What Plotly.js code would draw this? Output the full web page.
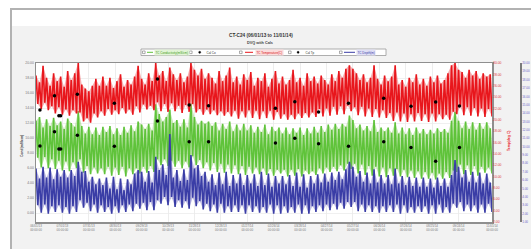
<!DOCTYPE html>
<html>
<head>
<meta charset="utf-8">
<script src="https://cdn.plot.ly/plotly-3.0.1.min.js"></script>
<style>
  html, body { margin:0; padding:0; background:#ffffff; width:531px; height:249px; overflow:hidden; }
  #frame { position:absolute; left:10px; top:8px; width:540px; height:260px;
           border-left:2px solid #b2b2b2; border-top:2px solid #b2b2b2;
           background:linear-gradient(#ffffff 0px, #ffffff 16px, #f2f2f2 16px); }
  #plot { position:absolute; left:0; top:0; width:531px; height:249px; }
</style>
</head>
<body>
<div id="frame"></div>
<div id="plot"></div>
<script>
// ---- data ----
const startDate = '2013-06-01';
const endDate = '2014-11-01';
const sampleStepDays = 4;   // one high + one low reading per 4-day step

const redHi = [27.8,26.6,29.5,27.4,26.0,28.2,26.8,27.6,25.8,28.6,
  27.0,28.2,30.0,26.2,25.5,25.0,26.0,27.2,26.0,27.6,
  26.0,27.4,25.6,26.8,28.0,25.8,27.0,26.2,27.6,29.5,
  27.2,26.2,28.2,26.8,30.0,27.8,28.6,26.8,29.2,28.0,
  27.0,28.2,26.6,27.6,30.0,28.8,27.8,29.0,27.2,28.2,
  27.4,26.4,28.6,26.8,27.8,29.2,26.6,27.6,26.2,28.0,
  27.0,28.4,26.0,27.4,26.8,28.2,25.8,27.2,28.6,26.4,
  27.6,26.2,27.0,28.8,26.6,27.4,26.0,28.2,26.8,27.6,
  26.4,27.8,27.0,26.2,28.0,26.8,28.6,27.4,29.0,29.6,
  29.0,28.2,27.0,28.0,26.6,27.4,29.6,27.2,26.2,27.8,
  26.8,27.6,29.6,26.2,27.0,25.8,27.4,26.6,28.0,26.2,
  27.2,26.0,27.6,26.6,27.8,26.4,27.0,28.2,29.6,30.0,
  28.8,28.4,27.4,28.8,27.8,28.6,27.2,28.2,27.6,28.0];
const redLo = [22.8,21.9,23.0,21.7,22.4,21.1,22.2,20.9,21.8,20.7,
  21.7,21.1,21.3,19.7,20.3,19.5,21.1,20.4,21.5,20.7,
  21.9,20.9,21.7,21.0,22.1,21.1,21.8,20.9,22.4,21.3,
  22.7,21.8,22.5,21.7,23.1,21.5,22.8,21.4,22.9,21.5,
  22.5,21.2,22.6,21.4,22.8,21.3,21.9,20.9,21.8,21.0,
  21.7,20.8,21.5,20.7,21.4,20.6,21.6,20.2,21.5,20.4,
  21.7,20.3,21.6,20.1,21.5,20.3,21.6,20.0,21.4,20.2,
  21.0,20.0,20.9,20.1,21.1,20.3,21.2,20.4,21.3,20.5,
  21.9,20.6,22.0,20.7,22.3,20.9,22.4,21.0,22.5,21.5,
  22.2,20.8,22.3,20.6,22.0,20.5,21.9,20.4,21.7,20.3,
  21.2,19.8,21.3,19.7,21.1,19.6,21.0,19.7,21.2,19.8,
  21.0,19.6,21.1,19.7,21.0,20.1,20.9,20.0,21.4,21.0,
  22.3,20.8,22.2,20.7,22.1,20.6,22.0,20.5,21.9,20.6];

const greenHi = [12.3,12.8,11.4,12.5,11.6,12.7,11.7,12.2,11.2,12.6,
  12.0,11.5,13.6,11.6,10.6,11.5,10.5,11.4,10.4,11.5,
  10.8,11.6,10.5,11.3,10.4,11.5,10.7,11.7,10.9,12.2,
  11.8,11.2,11.9,11.0,14.5,13.2,12.2,12.8,13.8,12.0,
  12.4,11.5,12.5,11.4,14.6,12.8,11.8,12.3,11.9,12.2,
  11.6,12.1,11.0,11.9,11.2,12.2,10.9,11.8,11.0,11.9,
  11.0,11.7,10.7,11.5,10.8,11.8,10.5,11.5,10.9,11.4,
  10.6,11.4,10.5,11.3,10.7,11.4,10.4,11.3,10.6,11.5,
  10.7,11.6,10.8,11.8,11.1,11.9,11.2,11.9,11.5,13.0,
  12.4,11.3,11.8,11.0,11.6,10.9,12.4,10.8,11.4,10.9,
  11.4,10.7,12.1,10.6,11.4,10.5,11.3,10.4,11.4,10.6,
  11.2,10.5,11.1,10.6,11.3,10.8,11.2,10.7,12.3,13.5,
  12.3,11.3,12.2,11.2,12.1,11.1,12.0,11.2,12.1,11.3];
const greenLo = [7.4,6.1,7.5,6.0,7.2,5.9,7.0,5.7,6.9,5.6,
  6.8,6.0,7.2,5.4,6.3,5.2,6.1,5.3,6.0,5.2,
  6.2,5.0,6.1,5.1,6.2,4.9,6.0,5.2,6.0,5.3,
  6.2,5.4,6.3,5.5,7.2,6.4,7.2,6.3,7.0,6.2,
  7.0,6.0,6.9,6.1,7.6,6.4,7.1,6.0,6.8,5.7,
  6.7,5.5,6.6,5.4,6.5,5.3,6.4,5.2,6.3,5.1,
  6.2,5.3,6.1,5.2,6.0,5.1,5.9,5.0,5.8,5.3,
  5.8,4.9,5.8,5.0,5.9,4.9,5.7,5.2,5.6,5.1,
  6.0,5.3,6.1,5.5,6.2,5.6,6.4,5.7,6.6,5.9,
  6.6,5.3,6.5,5.1,6.3,5.0,6.2,4.9,6.1,4.8,
  6.0,5.0,5.9,4.9,5.8,4.8,5.7,4.7,5.6,4.6,
  5.5,4.6,5.4,4.5,5.3,4.6,5.5,4.7,5.7,5.5,
  6.5,5.2,6.4,5.1,6.3,5.0,6.2,5.4,6.1,5.3];

const blueHi = [7.4,6.2,7.6,6.3,7.5,6.1,7.3,6.4,7.2,6.3,
  7.2,6.5,8.2,7.0,7.1,5.8,6.4,5.5,6.2,5.4,
  6.3,5.0,6.4,4.9,6.2,4.8,6.1,5.5,6.8,7.2,
  7.0,5.8,7.1,5.7,8.8,7.2,7.9,6.6,11.5,6.3,
  7.2,5.9,7.3,6.0,9.0,7.4,7.8,6.5,7.0,5.8,
  6.7,5.4,6.9,5.5,7.0,5.3,6.6,5.6,6.8,5.4,
  6.6,5.6,6.7,5.3,7.0,5.4,6.8,5.2,6.5,5.6,
  6.5,5.5,6.6,5.3,6.9,5.2,6.7,5.1,6.5,5.6,
  6.7,5.7,6.8,5.8,6.9,6.0,7.0,6.1,7.3,8.2,
  7.6,6.4,7.1,5.8,6.9,5.6,7.3,5.7,6.6,5.6,
  6.6,5.5,7.4,5.6,6.5,5.4,6.4,5.3,6.3,5.2,
  6.3,5.2,6.2,5.1,6.3,5.3,6.2,5.2,6.6,8.4,
  7.6,6.3,7.2,5.8,7.0,5.7,6.9,5.6,6.8,5.7];
const blueLo = [3.0,2.1,3.1,2.0,2.9,2.2,3.0,2.1,2.8,2.0,
  2.9,2.2,3.6,2.7,3.3,2.3,3.1,2.1,3.0,2.2,
  2.8,2.0,2.9,2.1,3.0,2.2,3.1,2.3,3.2,2.6,
  3.3,2.4,3.4,2.4,3.6,3.2,4.0,3.0,4.0,2.8,
  3.6,2.7,3.5,2.6,3.9,2.9,3.5,2.5,3.2,2.3,
  3.1,2.1,3.2,2.1,2.9,2.2,3.0,2.2,3.0,2.0,
  3.0,2.2,2.9,2.1,2.8,2.1,3.1,2.0,3.0,2.0,
  2.9,2.1,2.8,2.1,3.1,2.0,3.0,2.0,2.9,2.2,
  3.0,2.3,3.1,2.4,3.2,2.5,3.3,2.6,3.4,2.8,
  3.4,2.3,3.1,2.2,3.0,2.2,2.9,2.1,2.9,2.2,
  3.0,2.2,3.1,2.0,3.0,2.1,2.8,2.1,2.9,2.2,
  2.9,2.0,3.0,2.0,3.1,2.1,2.8,2.1,3.2,2.7,
  3.4,2.3,3.1,2.3,3.0,2.1,3.1,2.1,3.2,2.2];

const calDates = ['2013-06-05 12:00','2013-06-22','2013-06-27','2013-06-29','2013-07-18',
  '2013-08-29','2013-10-17','2013-11-22','2013-12-14','2014-02-28','2014-03-22',
  '2014-04-18','2014-05-22','2014-07-01','2014-08-01','2014-08-29','2014-09-25'];
const calCo = [8.97,10.84,8.57,8.57,10.40,8.93,12.27,9.51,9.51,9.37,10.00,9.24,8.93,9.51,8.76,6.93,8.76];
const calTp = [21.72,24.24,20.72,20.72,24.49,22.90,27.18,22.60,22.48,22.02,23.18,21.37,22.90,23.78,22.37,23.13,22.43];

const tickDates = ['2013-06-01','2013-07-01','2013-07-31','2013-08-30','2013-09-29','2013-10-29',
  '2013-11-28','2013-12-28','2014-01-27','2014-02-26','2014-03-28','2014-04-27','2014-05-27',
  '2014-06-26','2014-07-26','2014-08-25','2014-09-24','2014-11-01'];
const tickLabels = ['06/01/13','07/01/13','07/31/13','08/30/13','09/29/13','10/29/13',
  '11/28/13','12/28/13','01/27/14','02/26/14','03/28/14','04/27/14','05/27/14',
  '06/26/14','07/26/14','08/25/14','09/24/14','11/01/14'];

const names = ['TC Conductivity(mS/cm)','Cal Co','TC Temperature(C)','Cal Tp','TC Depth(m)'];
const titleText = 'CT-C24 (06/01/13 to 11/01/14)';
const subTitleText = 'DVQ with Cals';

// ---- build traces ----
const t0 = Date.parse(startDate + 'T00:00:00Z');
function dayStr(d){ return new Date(t0 + d*86400000).toISOString().slice(0,10); }
function zig(hi, lo){
  const x=[], y=[];
  for (let i=0;i<hi.length;i++){
    x.push(dayStr(i*sampleStepDays)); y.push(hi[i]);
    x.push(dayStr(i*sampleStepDays + sampleStepDays/2)); y.push(lo[i]);
  }
  return {x, y};
}
function band(hi, lo){
  const x=[], y=[];
  for (let i=0;i<hi.length;i++){ x.push(dayStr(i*sampleStepDays)); y.push(hi[i]); }
  for (let i=lo.length-1;i>=0;i--){ x.push(dayStr(i*sampleStepDays + sampleStepDays/2)); y.push(lo[i]); }
  return {x, y};
}
const R = zig(redHi, redLo), G = zig(greenHi, greenLo), B = zig(blueHi, blueLo);
const Rb = band(redHi, redLo), Gb = band(greenHi, greenLo), Bb = band(blueHi, blueLo);
const RED='#e8161c', GREEN='#5fc33a', BLUE='#3a3da6';

const traces = [
  {type:'scatter', mode:'lines', x:Rb.x, y:Rb.y, yaxis:'y2', fill:'toself', fillcolor:'rgba(238,80,85,0.45)',
   line:{width:0}, hoverinfo:'skip'},
  {type:'scatter', mode:'lines', x:Gb.x, y:Gb.y, yaxis:'y', fill:'toself', fillcolor:'rgba(130,205,95,0.45)',
   line:{width:0}, hoverinfo:'skip'},
  {type:'scatter', mode:'lines', x:Bb.x, y:Bb.y, yaxis:'y3', fill:'toself', fillcolor:'rgba(105,100,190,0.42)',
   line:{width:0}, hoverinfo:'skip'},
  {type:'scatter', mode:'lines', x:R.x, y:R.y, yaxis:'y2', name:names[2],
   line:{color:RED, width:1.6}, hoverinfo:'skip'},
  {type:'scatter', mode:'lines', x:G.x, y:G.y, yaxis:'y', name:names[0],
   line:{color:GREEN, width:1.6}, hoverinfo:'skip'},
  {type:'scatter', mode:'lines', x:B.x, y:B.y, yaxis:'y3', name:names[4],
   line:{color:BLUE, width:1.6}, hoverinfo:'skip'},
  {type:'scatter', mode:'markers', x:calDates, y:calCo, yaxis:'y', name:names[1],
   marker:{color:'#000', size:3.5}},
  {type:'scatter', mode:'markers', x:calDates, y:calTp, yaxis:'y2', name:names[3],
   marker:{color:'#000', size:3.5}}
];

// ---- layout helpers (pixel -> paper) ----
const L=36, T=63, W=493, H=159;
const PX = p => (p - L)/W;
const PY = p => (T + H - p)/H;
const FONT = 'Liberation Sans, Arial, sans-serif';

const shapes = [];
const annotations = [];
shapes.push({type:'rect', xref:'paper', yref:'paper', x0:PX(141), x1:PX(386), y0:PY(55.5), y1:PY(49),
  fillcolor:'#ffffff', line:{color:'#9a9a9a', width:0.8}});
const legendItems = [
  {cb:142.5, kind:'line', s0:147, s1:153, color:GREEN, tx:153.5, text:names[0], tc:'#3f9a22', bg:'#e2f4d6'},
  {cb:189.5, kind:'dot', s0:198.6, s1:200.8, color:'#000', tx:205, text:names[1], tc:'#333', bg:null},
  {cb:239.5, kind:'line', s0:245, s1:253, color:RED, tx:254.5, text:names[2], tc:'#d8141a', bg:'#fbdcdc'},
  {cb:288.5, kind:'dot', s0:297, s1:299.2, color:'#000', tx:304, text:names[3], tc:'#333', bg:null},
  {cb:339.5, kind:'line', s0:344, s1:355, color:BLUE, tx:356, text:names[4], tc:'#3a3ea8', bg:'#e0e0f5'}
];
legendItems.forEach(it => {
  shapes.push({type:'rect', xref:'paper', yref:'paper', x0:PX(it.cb), x1:PX(it.cb+2.6), y0:PY(53.6), y1:PY(51),
    fillcolor:'#ffffff', line:{color:'#777', width:0.6}});
  if (it.kind==='line') {
    shapes.push({type:'line', xref:'paper', yref:'paper', x0:PX(it.s0), x1:PX(it.s1), y0:PY(52.3), y1:PY(52.3),
      line:{color:it.color, width:1}});
  } else {
    shapes.push({type:'circle', xref:'paper', yref:'paper', x0:PX(it.s0), x1:PX(it.s1), y0:PY(53.4), y1:PY(51.2),
      fillcolor:'#000', line:{color:'#000', width:0.3}});
  }
  const a = {xref:'paper', yref:'paper', x:PX(it.tx), y:PY(52.3), xanchor:'left', yanchor:'middle',
    text:it.text, showarrow:false, font:{family:FONT, size:3, color:it.tc}, borderpad:0.5};
  if (it.bg) a.bgcolor = it.bg;
  annotations.push(a);
});
annotations.push({xref:'paper', yref:'paper', x:PX(261), y:PY(35), xanchor:'center', yanchor:'middle',
  text:'<b>'+titleText+'</b>', showarrow:false, font:{family:FONT, size:4.7, color:'#333'}});
annotations.push({xref:'paper', yref:'paper', x:PX(260), y:PY(43), xanchor:'center', yanchor:'middle',
  text:'<b>'+subTitleText+'</b>', showarrow:false, font:{family:FONT, size:3.8, color:'#444'}});
annotations.push({xref:'paper', yref:'paper', x:PX(22), y:PY(146), xanchor:'center', yanchor:'middle',
  text:'<b>Cond(mS/cm)</b>', textangle:-90, showarrow:false, font:{family:FONT, size:3.4, color:'#444'}});
annotations.push({xref:'paper', yref:'paper', x:PX(509), y:PY(141), xanchor:'center', yanchor:'middle',
  text:'<b>Temp(deg C)</b>', textangle:-90, showarrow:false, font:{family:FONT, size:3.4, color:RED}});

const layout = {
  width:531, height:249,
  margin:{l:L, r:2, t:T, b:27, pad:0},
  paper_bgcolor:'rgba(0,0,0,0)', plot_bgcolor:'#ffffff',
  showlegend:false,
  font:{family:FONT},
  xaxis:{type:'date', range:[startDate, endDate], domain:[0, 456/W], anchor:'y',
    tickvals:tickDates, ticktext:tickLabels.map(s => s + '<br>00:00:00'),
    tickfont:{size:3, color:'#777'}, ticks:'', showgrid:true, gridcolor:'#e6e6e6', gridwidth:0.7,
    showline:true, linecolor:'#8f8f8f', linewidth:1.5, mirror:true, zeroline:false},
  yaxis:{range:[-1.16, 20], tick0:0, dtick:2, tickformat:'.2f',
    tickfont:{size:3.4, color:'#777'}, ticks:'', showgrid:true, gridcolor:'#e9e9e9', gridwidth:0.7,
    showline:true, linecolor:'#8f8f8f', linewidth:1.5, mirror:true, zeroline:false},
  yaxis2:{overlaying:'y', side:'right', anchor:'x', range:[2, 30], tick0:2, dtick:2, tickformat:'.2f',
    tickfont:{size:3.4, color:'#e03a3a'}, ticks:'', showgrid:false, showline:false, zeroline:false},
  yaxis3:{overlaying:'y', side:'right', anchor:'free', position:(520-L)/W, range:[1, 20], tick0:1, dtick:1,
    tickformat:'.2f', tickfont:{size:3, color:'#6a5fc8'}, ticks:'', showgrid:false,
    showline:true, linecolor:'#7a7a7a', linewidth:1.6, zeroline:false},
  shapes:shapes,
  annotations:annotations
};

Plotly.newPlot('plot', traces, layout, {displayModeBar:false, staticPlot:true});
</script>
</body>
</html>
